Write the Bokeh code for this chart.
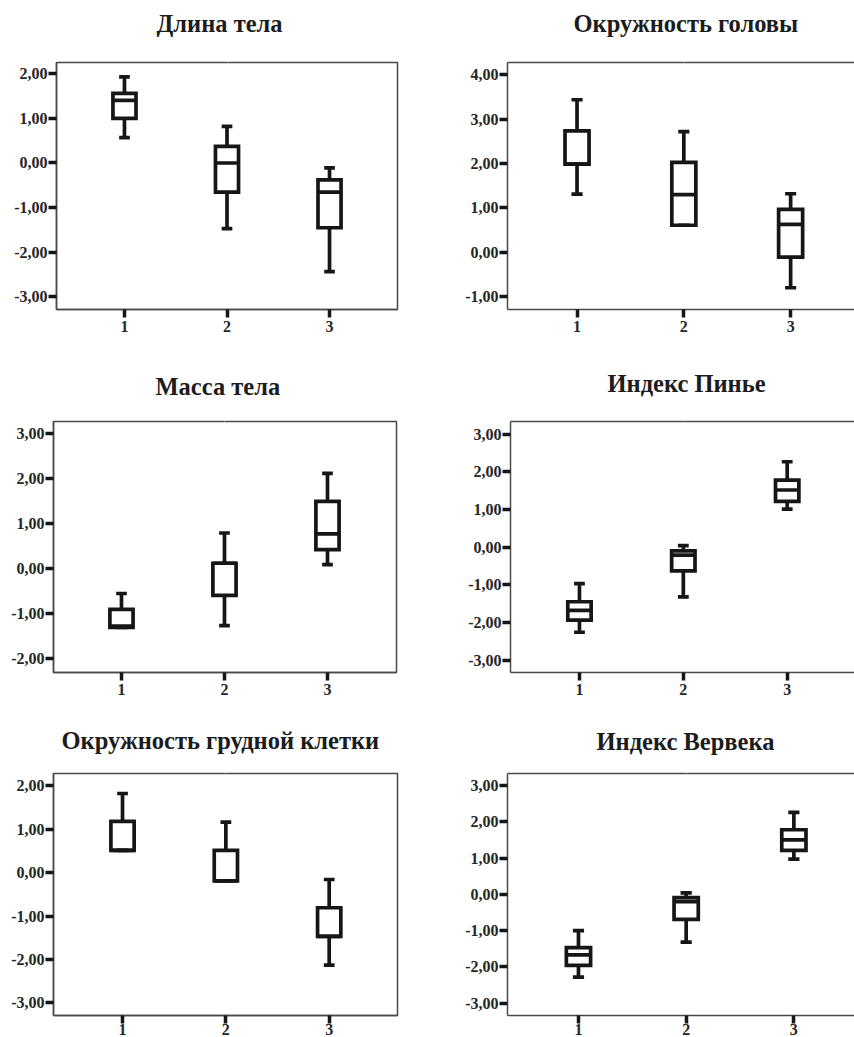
from bokeh.plotting import figure
from bokeh.layouts import column, row
from bokeh.models import FixedTicker, CustomJSTickFormatter, LinearAxis, Range1d
from bokeh.embed import file_html
from bokeh.resources import INLINE

# ---------------- data ----------------
groups = [1, 2, 3]

titles = ["Длина тела", "Окружность головы", "Масса тела",
          "Индекс Пинье", "Окружность грудной клетки", "Индекс Вервека"]

# Длина тела
dt_lo = [0.57, -1.47, -2.43]
dt_q1 = [1.00, -0.65, -1.45]
dt_med = [1.40, 0.00, -0.65]
dt_q3 = [1.56, 0.37, -0.38]
dt_hi = [1.93, 0.82, -0.11]
dt_ticks = [-3, -2, -1, 0, 1, 2]

# Окружность головы
og_lo = [1.31, 0.61, -0.80]
og_q1 = [1.99, 0.61, -0.11]
og_med = [1.99, 1.30, 0.63]
og_q3 = [2.74, 2.03, 0.97]
og_hi = [3.44, 2.72, 1.32]
og_ticks = [-1, 0, 1, 2, 3, 4]

# Масса тела
mt_lo = [-1.30, -1.26, 0.09]
mt_q1 = [-1.30, -0.59, 0.42]
mt_med = [-1.27, 0.12, 0.77]
mt_q3 = [-0.90, 0.12, 1.49]
mt_hi = [-0.55, 0.79, 2.11]
mt_ticks = [-2, -1, 0, 1, 2, 3]

# Индекс Пинье
ip_lo = [-2.26, -1.32, 1.01]
ip_q1 = [-1.94, -0.63, 1.22]
ip_med = [-1.68, -0.21, 1.52]
ip_q3 = [-1.45, -0.10, 1.78]
ip_hi = [-0.97, 0.04, 2.27]
ip_ticks = [-3, -2, -1, 0, 1, 2, 3]

# Окружность грудной клетки
gk_lo = [0.51, -0.19, -2.13]
gk_q1 = [0.51, -0.19, -1.47]
gk_med = [0.51, -0.19, -1.47]
gk_q3 = [1.18, 0.51, -0.81]
gk_hi = [1.82, 1.16, -0.16]
gk_ticks = [-3, -2, -1, 0, 1, 2]

# Индекс Вервека
iv_lo = [-2.28, -1.32, 0.97]
iv_q1 = [-1.96, -0.69, 1.21]
iv_med = [-1.67, -0.20, 1.50]
iv_q3 = [-1.47, -0.09, 1.78]
iv_hi = [-1.00, 0.04, 2.26]
iv_ticks = [-3, -2, -1, 0, 1, 2, 3]

# ---------------- style ----------------
FONT = "Liberation Serif"
INK = "#161616"
FRAME = "#4a4a4a"
BOX_W = 0.225
CAP_HALF = 0.052
LW = 3.7

fmt = CustomJSTickFormatter(code="return tick.toFixed(2).replace('.', ',');")
blank = CustomJSTickFormatter(code="return '';")


def panel(title, lo, q1, med, q3, hi, yticks, yr, xr, size, borders,
          title_offset, title_gap, right_col, x_standoff=3):
    width, height = size
    mb_left, mb_right, mb_top, mb_bottom = borders
    p = figure(width=width, height=height, output_backend="svg",
               toolbar_location=None, x_range=Range1d(*xr),
               y_range=Range1d(*yr), title=title,
               min_border_left=mb_left, min_border_right=mb_right,
               min_border_top=mb_top, min_border_bottom=mb_bottom)
    p.title.text_font = FONT
    p.title.text_font_style = "bold"
    p.title.text_font_size = "24.5px"
    p.title.text_color = "#1c1c1c"
    p.title.align = "left"
    p.title.offset = title_offset
    p.title.standoff = 4
    p.xgrid.grid_line_color = None
    p.ygrid.grid_line_color = None
    p.background_fill_color = "white"
    p.border_fill_color = "white"

    for ax in (p.xaxis[0], p.yaxis[0]):
        ax.major_tick_in = 0
        ax.major_tick_out = 8
        ax.major_tick_line_width = 3.5
        ax.major_tick_line_color = INK
        ax.minor_tick_line_color = None
        ax.axis_line_color = FRAME
        ax.axis_line_width = 1.5
        ax.major_label_text_font = FONT
        ax.major_label_text_font_style = "bold"
        ax.major_label_text_font_size = "16px"
        ax.major_label_text_color = "#262626"
        ax.major_label_standoff = 1
    p.xaxis.major_label_standoff = x_standoff
    p.xaxis.ticker = FixedTicker(ticks=groups)
    p.yaxis.ticker = FixedTicker(ticks=yticks)
    p.yaxis.formatter = fmt

    # top border + spacer between the title and the frame
    top = LinearAxis(ticker=FixedTicker(ticks=[groups[1]]), formatter=blank,
                     major_label_text_font_size="1px", major_label_standoff=0,
                     major_tick_in=0, major_tick_out=title_gap,
                     axis_line_color=FRAME if right_col else None,
                     axis_line_width=1.5,
                     major_tick_line_color="white", major_tick_line_width=0.5,
                     minor_tick_line_color=None)
    p.add_layout(top, "above")
    if right_col:
        p.outline_line_color = None
    else:
        p.outline_line_color = FRAME
        p.outline_line_width = 1.5

    kw = dict(line_color=INK, line_width=LW, line_cap="butt")
    p.segment(x0=groups, y0=q3, x1=groups, y1=hi, **kw)
    p.segment(x0=groups, y0=lo, x1=groups, y1=q1, **kw)
    p.vbar(x=groups, bottom=q1, top=q3, width=BOX_W, fill_color="white",
           line_color=INK, line_width=LW, line_join="miter")
    p.segment(x0=[g - BOX_W / 2 for g in groups], y0=med,
              x1=[g + BOX_W / 2 for g in groups], y1=med, **kw)
    p.segment(x0=[g - CAP_HALF for g in groups], y0=hi,
              x1=[g + CAP_HALF for g in groups], y1=hi, **kw)
    p.segment(x0=[g - CAP_HALF for g in groups], y0=lo,
              x1=[g + CAP_HALF for g in groups], y1=lo, **kw)
    return p


p1 = panel(titles[0], dt_lo, dt_q1, dt_med, dt_q3, dt_hi, dt_ticks,
           (-3.28, 2.25), (0.337, 3.663), (440, 360), (56, 43, 62, 44),
           100, 24, False)
p2 = panel(titles[1], og_lo, og_q1, og_med, og_q3, og_hi, og_ticks,
           (-1.29, 4.28), (0.349, 3.598), (414, 360), (67, 0, 62, 51),
           66, 24, True)
p3 = panel(titles[2], mt_lo, mt_q1, mt_med, mt_q3, mt_hi, mt_ticks,
           (-2.30, 3.26), (0.34, 3.67), (440, 355), (53, 44, 58, 43),
           102, 20, False)
p4 = panel(titles[3], ip_lo, ip_q1, ip_med, ip_q3, ip_hi, ip_ticks,
           (-3.33, 3.34), (0.336, 3.648), (414, 355), (70, 0, 61, 38),
           97, 23, True)
p5 = panel(titles[4], gk_lo, gk_q1, gk_med, gk_q3, gk_hi, gk_ticks,
           (-3.29, 2.28), (0.332, 3.661), (440, 322), (53, 43, 58, 5),
           8, 18, False, 0)
p6 = panel(titles[5], iv_lo, iv_q1, iv_med, iv_q3, iv_hi, iv_ticks,
           (-3.34, 3.33), (0.341, 3.563), (414, 322), (67, 0, 57, 5),
           89, 17, True, 0)

layout = column(row(p1, p2), row(p3, p4), row(p5, p6))
open("out.html", "w").write(file_html(layout, INLINE))
